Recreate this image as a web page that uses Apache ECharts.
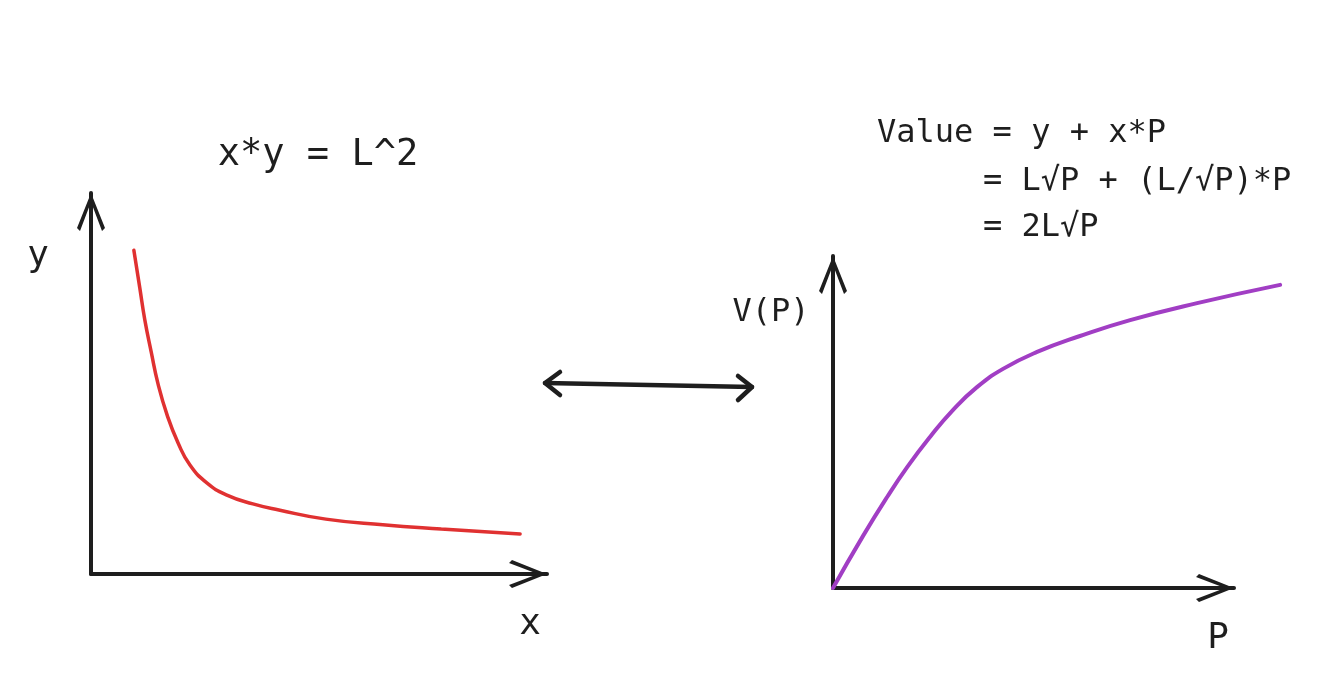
<!DOCTYPE html>
<html>
<head>
<meta charset="utf-8">
<script src="https://cdn.jsdelivr.net/npm/echarts@6/dist/echarts.min.js"></script>
<style>html,body{margin:0;padding:0;background:#fff}#c{width:1338px;height:682px}</style>
</head>
<body>
<div id="c"></div>
<script>
// Left sketch: x*y = L^2 (hyperbola), axis range 0..100
const hypX = [9.4, 10.7, 11.8, 13.2, 14.7, 16.7, 19.1, 21.7, 25.4, 29.8, 35.5, 41.2, 51.5, 64.0, 76.8, 94.1];
const hypY = [85.0, 75.1, 66.7, 58.3, 49.9, 41.7, 34.4, 28.6, 23.9, 20.7, 18.4, 16.8, 14.4, 12.9, 11.8, 10.5];
// Right sketch: V(P) = 2L*sqrt(P); the P arrow ends at 100, the curve runs on past it
const valP = [0, 7.5, 13.5, 18.5, 24.2, 29.9, 35.9, 42.4, 50.9, 61.6, 74.1, 90.8, 111.5];
const valV = [0, 15.7, 27.4, 36.4, 45.5, 53.6, 60.5, 66.0, 71.1, 75.9, 80.7, 85.8, 91.3];
// Texts
const leftTitle = 'x*y = L^2';
const leftXName = 'x';
const leftYName = 'y';
const rightLines = ['Value = y + x*P', '= L√P + (L/√P)*P', '= 2L√P'];
const rightXName = 'P';
const rightYName = 'V(P)';

const INK = '#1e1e1e';
const FONT = '"DejaVu Sans Mono", "Liberation Mono", monospace';
const chevron = 'path://M14,0 L28,35 L25,38 L14,9 L3,38 L0,35 Z';

function zip(a, b) { return a.map((v, i) => [v, b[i]]); }

function axis(gridIndex, max, showLine) {
  return {
    type: 'value', gridIndex: gridIndex, min: 0, max: max,
    axisLine: { show: showLine, onZero: false,
      lineStyle: { color: INK, width: 4, cap: 'round' },
      symbol: ['none', chevron], symbolSize: [28, 38], symbolOffset: [0, -19] },
    axisTick: { show: false }, axisLabel: { show: false }, splitLine: { show: false }
  };
}

const chart = echarts.init(document.getElementById('c'), null, { renderer: 'canvas' });

function txt(text, x, y, size, align) {
  return { type: 'text', x: x, y: y, silent: true,
    style: { text: text, fill: INK, font: size + 'px ' + FONT, textAlign: align || 'center', textVerticalAlign: 'middle' } };
}

chart.setOption({
  animation: false,
  backgroundColor: '#ffffff',
  grid: [
    { left: 91, top: 193, width: 456, height: 381 },
    { left: 833, top: 256, width: 447.1, height: 332 },
    { left: 833, top: 256, width: 401, height: 332 }
  ],
  xAxis: [axis(0, 100, true), axis(1, 111.5, false), axis(2, 100, true)],
  yAxis: [axis(0, 100, true), axis(1, 100, true), axis(2, 100, false)],
  series: [
    { type: 'line', xAxisIndex: 0, yAxisIndex: 0, data: zip(hypX, hypY), smooth: 0.5,
      showSymbol: false, clip: false, lineStyle: { color: '#e03131', width: 3.5, cap: 'round' } },
    { type: 'line', xAxisIndex: 1, yAxisIndex: 1, data: zip(valP, valV), smooth: 0.5,
      showSymbol: false, clip: false, lineStyle: { color: '#a13ec4', width: 4, cap: 'round' } }
  ],
  graphic: [
    txt(leftTitle, 318, 155, 37),
    txt(leftYName, 38, 257, 36),
    txt(leftXName, 530, 625, 36),
    txt(rightYName, 771, 313, 32),
    txt(rightXName, 1218, 639, 36),
    txt(rightLines[0], 877, 134, 32, 'left'),
    txt(rightLines[1], 983, 182, 32, 'left'),
    txt(rightLines[2], 983, 228, 32, 'left'),
    { type: 'group', silent: true, children: [
      { type: 'line', shape: { x1: 545, y1: 383, x2: 752, y2: 387 },
        style: { stroke: INK, lineWidth: 4.5, lineCap: 'round' } },
      { type: 'polyline', shape: { points: [[560, 372], [545, 383], [560, 395]] },
        style: { stroke: INK, lineWidth: 4.5, lineCap: 'round', lineJoin: 'round', fill: null } },
      { type: 'polyline', shape: { points: [[738, 376], [752, 387], [738, 400]] },
        style: { stroke: INK, lineWidth: 4.5, lineCap: 'round', lineJoin: 'round', fill: null } }
    ] }
  ]
});
</script>
</body>
</html>
